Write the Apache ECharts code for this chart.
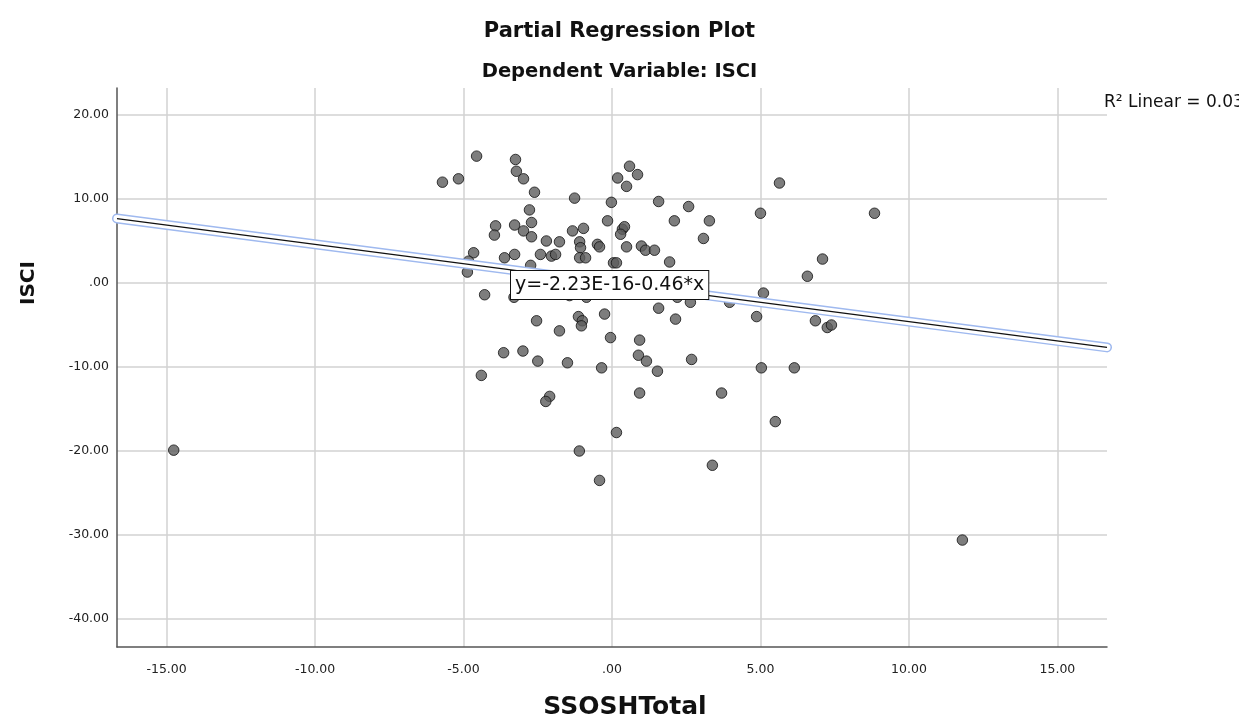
<!DOCTYPE html>
<html>
<head>
<meta charset="utf-8">
<script src="https://cdn.jsdelivr.net/npm/echarts@6/dist/echarts.min.js"></script>
<style>
  html, body { margin: 0; padding: 0; background: #fff; }
  #chart { width: 1239px; height: 721px; }
</style>
</head>
<body>
<div id="chart"></div>
<script>
// Partial residuals of SSOSHTotal (x) and ISCI (y)
const ssoshTotal = [
  -4.56, -5.71, -5.17, -3.25, -3.22, -2.98, -2.61, -1.26, -0.02, 0.59,
  0.86, 0.19, 0.49, -2.78, -2.71, -3.92, -3.96, -3.28, -2.98, -2.71,
  -2.21, -1.77, -2.41, -2.04, -1.90, -1.33, -0.96, -0.15, -1.09, -1.06,
  -1.09, -0.89, -0.49, -0.42, 0.49, 0.99, 1.13, 0.35, 0.42, 0.29,
  -3.28, -3.62, -2.74, 0.05, 0.15, -4.29, -4.66, -4.83, -4.87, 1.43,
  1.57, 2.58, 2.10, 3.28, 3.08, 1.94, 5.64, 5.00, 8.84, 6.58,
  7.09, 3.96, 4.87, 5.10, 2.64, 2.20, 1.57, 2.14, 0.93, 0.89,
  1.16, 1.53, 2.68, -0.05, -0.25, -1.13, -1.00, -1.03, -1.77, -2.54,
  -2.50, -1.50, -0.35, -3.65, -3.00, -3.30, -1.43, -0.86, -4.40, -2.10,
  -2.23, -1.10, -0.42, 0.15, 3.38, 5.50, 3.69, 0.93, 5.03, 6.14,
  6.85, 7.25, 7.39, -14.76, 11.80
];
const isci = [
  15.1, 12.0, 12.4, 14.7, 13.3, 12.4, 10.8, 10.1, 9.6, 13.9,
  12.9, 12.5, 11.5, 8.7, 7.2, 6.8, 5.7, 6.9, 6.2, 5.5,
  5.0, 4.9, 3.4, 3.2, 3.4, 6.2, 6.5, 7.4, 4.9, 4.2,
  3.0, 3.0, 4.6, 4.3, 4.3, 4.4, 3.9, 6.4, 6.7, 5.8,
  3.4, 3.0, 2.1, 2.4, 2.4, -1.4, 3.6, 2.6, 1.3, 3.9,
  9.7, 9.1, 7.4, 7.4, 5.3, 2.5, 11.9, 8.3, 8.3, 0.8,
  2.85, -2.3, -4.0, -1.2, -2.3, -1.7, -3.0, -4.3, -6.8, -8.6,
  -9.3, -10.5, -9.1, -6.5, -3.7, -4.0, -4.5, -5.1, -5.7, -4.5,
  -9.3, -9.5, -10.1, -8.3, -8.1, -1.7, -1.5, -1.7, -11.0, -13.5,
  -14.1, -20.0, -23.5, -17.8, -21.7, -16.5, -13.1, -13.1, -10.1, -10.1,
  -4.5, -5.3, -5.0, -19.9, -30.6
];

// Axis extents and fit results
const xExtent = [-16.67, 16.67];
const yExtent = [-43.33, 23.21];
const fitIntercept = -2.23e-16;
const fitSlope = -0.46;
const fitLabel = 'y=-2.23E-16-0.46*x';
const r2Label = 'R\u00B2 Linear = 0.03';
const titleLines = ['Partial Regression Plot', 'Dependent Variable: ISCI'];
const xName = 'SSOSHTotal';
const yName = 'ISCI';

const points = ssoshTotal.map((x, i) => [x, isci[i]]);
const fitLine = xExtent.map(x => [x, fitIntercept + fitSlope * x]);

function tickText(v) {
  if (Math.abs(v) < 1e-9) return '.00';
  return v.toFixed(2);
}

const chart = echarts.init(document.getElementById('chart'), null, { renderer: 'canvas' });

const gridColor = '#d2d2d2';
const axisColor = '#555';
const uiFont = 'DejaVu Sans';

chart.setOption({
  backgroundColor: '#fff',
  animation: false,
  title: [
    { text: titleLines[0], left: 'center', top: 16,
      textStyle: { fontFamily: uiFont, fontWeight: 'bold', fontSize: 21, color: '#111' } },
    { text: titleLines[1], left: 'center', top: 57,
      textStyle: { fontFamily: uiFont, fontWeight: 'bold', fontSize: 19.5, color: '#111' } }
  ],
  grid: { left: 117, right: 132, top: 88, bottom: 74, containLabel: false },
  xAxis: {
    type: 'value',
    min: xExtent[0], max: xExtent[1],
    splitNumber: 6,
    axisLine: { onZero: false, lineStyle: { color: axisColor, width: 1.5 } },
    axisTick: { show: false },
    axisLabel: { showMinLabel: false, showMaxLabel: false, formatter: tickText,
      fontFamily: uiFont, fontSize: 12.5, color: '#222', margin: 16 },
    splitLine: { show: true, showMinLine: false, showMaxLine: false,
      lineStyle: { color: gridColor, width: 1.5 } }
  },
  yAxis: {
    type: 'value',
    min: yExtent[0], max: yExtent[1],
    splitNumber: 6,
    axisLine: { show: true, onZero: false, lineStyle: { color: axisColor, width: 1.5 } },
    axisTick: { show: false },
    axisLabel: { showMinLabel: false, showMaxLabel: false, formatter: tickText,
      fontFamily: uiFont, fontSize: 12.5, color: '#222', margin: 8 },
    splitLine: { show: true, showMinLine: false, showMaxLine: false,
      lineStyle: { color: gridColor, width: 1.5 } }
  },
  series: [
    {
      type: 'scatter',
      data: points,
      symbol: 'circle',
      symbolSize: 10.5,
      itemStyle: { color: '#5c5c5c', borderColor: '#111', borderWidth: 1 },
      z: 2
    },
    // selection halo around the fit line: blue rim, white core
    {
      type: 'line', data: fitLine, symbol: 'none', silent: true,
      lineStyle: { color: '#9fb9ef', width: 10, cap: 'round' }, z: 3
    },
    {
      type: 'line', data: fitLine, symbol: 'none', silent: true,
      lineStyle: { color: '#ffffff', width: 7, cap: 'round' }, z: 4
    },
    {
      type: 'line', data: fitLine, symbol: 'none', silent: true,
      lineStyle: { color: '#111', width: 1.2 }, z: 5
    }
  ],
  graphic: [
    {
      type: 'text', left: 510, top: 270, z: 100,
      style: {
        text: fitLabel, fontFamily: uiFont, fontSize: 19, fill: '#111',
        backgroundColor: '#fff', borderColor: '#111', borderWidth: 1,
        padding: [5, 4, 4, 4]
      }
    },
    {
      type: 'text', left: 1104, top: 94, z: 100,
      style: { text: r2Label, fontFamily: uiFont, fontSize: 17, fill: '#111' }
    },
    // axis titles
    {
      type: 'text', x: 29, y: 283, rotation: Math.PI / 2, z: 100,
      style: { text: yName, fontFamily: uiFont, fontWeight: 'bold', fontSize: 20,
        fill: '#111', align: 'center', verticalAlign: 'middle' }
    },
    {
      type: 'text', x: 625, y: 707, z: 100,
      style: { text: xName, fontFamily: uiFont, fontWeight: 'bold', fontSize: 25,
        fill: '#111', align: 'center', verticalAlign: 'middle' }
    }
  ]
});
</script>
</body>
</html>
